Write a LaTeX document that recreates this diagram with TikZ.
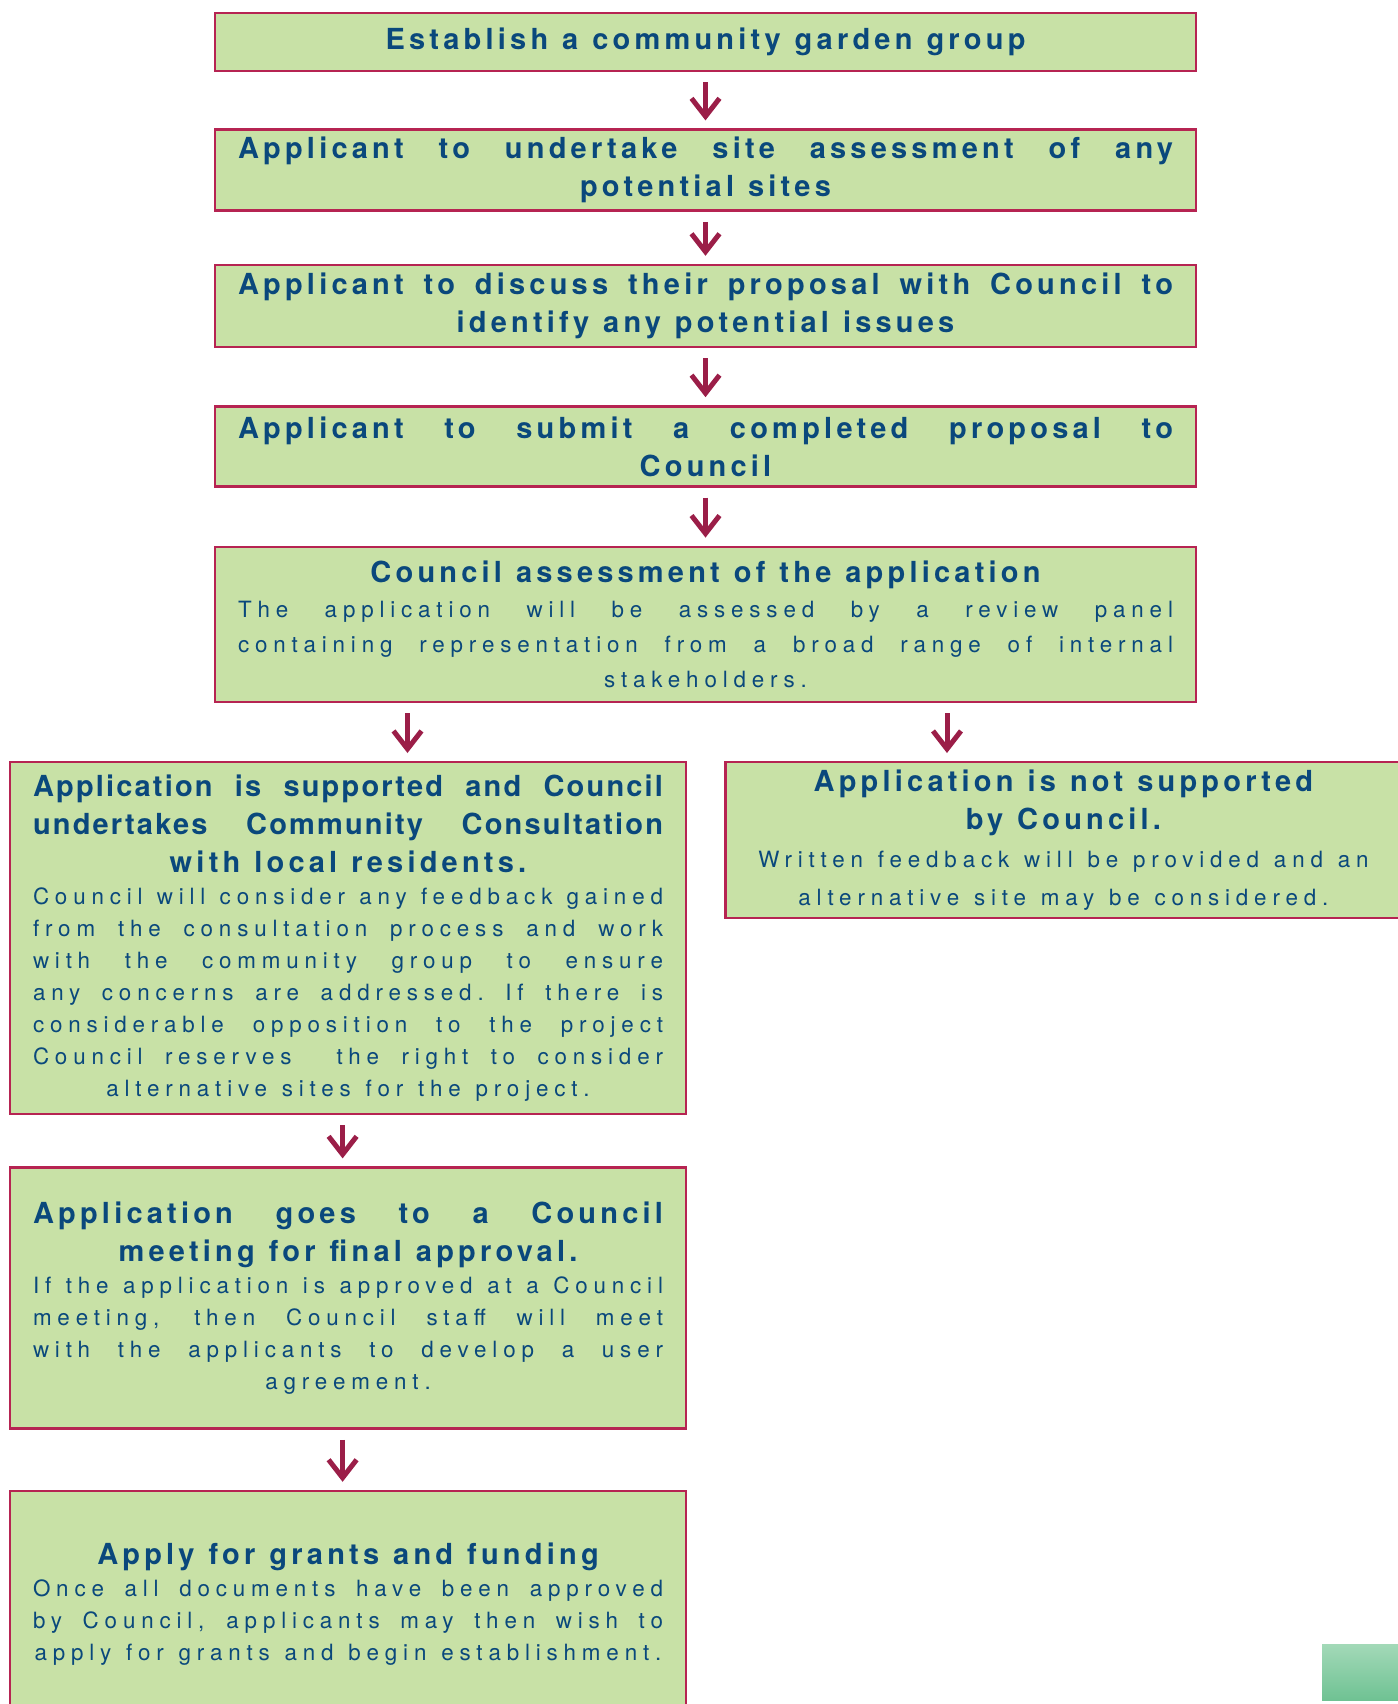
\documentclass[tikz,border=0pt]{standalone}
\usepackage{fontspec}
\usetikzlibrary{positioning,arrows.meta}
\setmainfont{TeX Gyre Heros}
\newfontfamily\headfont[LetterSpace=14.5]{TeX Gyre Heros}
\newfontfamily\headtight[LetterSpace=7.5]{TeX Gyre Heros}
\newfontfamily\bodyfont[LetterSpace=26]{TeX Gyre Heros}
\definecolor{leaf}{RGB}{200,225,166}
\definecolor{berry}{RGB}{182,36,82}
\definecolor{wine}{RGB}{155,30,72}
\definecolor{ink}{RGB}{10,72,124}
\definecolor{mintlight}{RGB}{163,217,184}
\definecolor{mintdark}{RGB}{111,194,147}
\newcommand{\centrelast}{\leftskip=0pt plus 1fil\rightskip=0pt plus -1fil\parfillskip=0pt plus 2fil}
\newcommand{\wordspace}[2]{\spaceskip=#1 plus 4pt minus #2\xspaceskip=\spaceskip}
\newcommand{\Head}{\headfont\bfseries\fontsize{14.5}{19}\selectfont\wordspace{7pt}{2pt}\centrelast}
\newcommand{\Tight}{\headtight\bfseries\selectfont}
\newcommand{\Body}[1][16]{\bodyfont\fontsize{11.2}{#1}\selectfont\wordspace{7.4pt}{3.5pt}\centrelast}

\tikzset{
  stage/.style={draw=berry, line width=1.2pt, fill=leaf, text=ink,
    inner xsep=11.5pt, inner ysep=3pt},
  wide/.style={stage, text width=467.5pt},
  half/.style={stage, text width=315pt},
  flow/.style={draw=wine, line width=2.5pt, shorten <=5pt, shorten >=4pt,
    -{Straight Barb[length=9pt,width=14pt]}}
}

\begin{document}
\begin{tikzpicture}
  \useasboundingbox (0,0) rectangle (699pt,-852pt);

  \node [wide, minimum height=29pt, anchor=north] (b1) at (352.75pt,-6pt)
    {\Head Establish a community garden group\par};
  \node [wide, minimum height=40.5pt, below=28pt of b1] (b2)
    {\Head Applicant to undertake site assessment of any \linebreak potential sites\par};
  \node [wide, minimum height=41pt, below=26pt of b2] (b3)
    {\Head Applicant to discuss their proposal with Council to \linebreak identify any potential issues\par};
  \node [wide, minimum height=40pt, below=28.5pt of b3] (b4)
    {\Head Applicant to submit a completed proposal to \linebreak Council\par};
  \node [wide, minimum height=77.5pt, below=29pt of b4] (b5)
    {{\Head Council assessment of the application\par}
     \Body[17.5] The application will be assessed by a review panel \linebreak
     containing representation from a broad range of internal \linebreak stakeholders.\par};

  \node [half, minimum height=176pt, below=29pt of b5.south west, anchor=north west,
    xshift=-102.5pt] (b6)
    {{\Head {\Tight Application is supported and Council \linebreak undertakes Community
     Consultation \linebreak} with local residents.\par}
     \Body Council will consider any feedback gained \linebreak from the consultation process
     and work \linebreak with the community group to ensure \linebreak any concerns are
     addressed. If there is \linebreak considerable opposition to the project \linebreak
     Council reserves\ \ the right to consider \linebreak alternative sites for the project.\par};
  \node [half, minimum height=78pt, right=18.5pt of b6.north east, anchor=north west] (b7)
    {{\Head Application is not supported\par by Council.\par}
     \Body[19] Written feedback will be provided and an\par alternative site may be considered.\par};
  \node [half, minimum height=130.5pt, below=25.5pt of b6] (b8)
    {{\Head Application goes to a Council \linebreak meeting for final approval.\par}
     \Body If the application is approved at a Council \linebreak meeting, then Council staff
     will meet \linebreak with the applicants to develop a user \linebreak agreement.\par};
  \node [half, minimum height=113pt, below=30pt of b8] (b9)
    {{\Head Apply for grants and funding\par}
     \Body Once all documents have been approved \linebreak by Council, applicants may then
     wish to \linebreak apply for grants and begin establishment.\par};

  % arrows between the stages
  \draw [flow] (b1) -- (b2);
  \draw [flow] (b2) -- (b3);
  \draw [flow] (b3) -- (b4);
  \draw [flow] (b4) -- (b5);
  \coordinate (yes) at ([xshift=-149pt]b5.south);
  \coordinate (no) at ([xshift=120.75pt]b5.south);
  \draw [flow] (yes) -- (yes |- b6.north);
  \draw [flow] (no) -- (no |- b7.north);
  \draw [flow] ([xshift=-2.7pt]b6.south) -- ([xshift=-2.7pt]b8.north);
  \draw [flow] ([xshift=-2.7pt]b8.south) -- ([xshift=-2.7pt]b9.north);

  \shade [top color=mintlight, bottom color=mintdark] (661pt,-822pt) rectangle (700pt,-850pt);
\end{tikzpicture}
\end{document}
